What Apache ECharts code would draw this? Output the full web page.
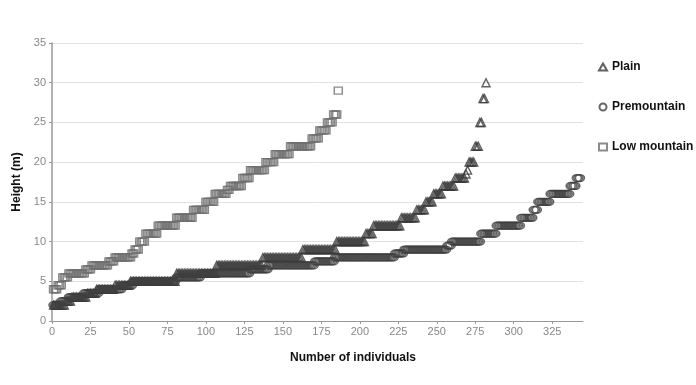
<!DOCTYPE html>
<html><head><meta charset="utf-8">
<script src="https://cdn.jsdelivr.net/npm/echarts@6/dist/echarts.min.js"></script>
<style>html,body{margin:0;padding:0;background:#fff}#c{width:696px;height:385px}</style>
</head><body><div id="c"></div>
<script>
const seriesNames = ['Plain', 'Premountain', 'Low mountain'];
const plainHeights = [2, 2.5, 3, 3.5, 4, 4.5, 5, 6, 7, 8, 9, 10, 11, 12, 13, 14, 15, 16, 17, 18, 18.5, 19, 20, 22, 25, 28, 30];
const plainCounts  = [8, 4, 10, 6, 12, 10, 30, 26, 30, 26, 22, 19, 5, 18, 10, 6, 5, 6, 8, 7, 1, 1, 4, 3, 2, 2, 1];
const premHeights = [2, 2.5, 3, 3.5, 4, 4.5, 5, 5.5, 6, 6.5, 7, 7.5, 8, 8.5, 9, 9.5, 10, 11, 12, 13, 14, 15, 16, 17, 18];
const premCounts  = [5, 5, 10, 10, 15, 7, 28, 16, 32, 12, 30, 13, 39, 6, 28, 3, 19, 10, 16, 8, 3, 8, 13, 4, 3];
const lowHeights = [4, 4.5, 5.5, 6, 6.5, 7, 7.5, 8, 8.5, 9, 10, 11, 12, 13, 14, 15, 16, 16.5, 17, 18, 19, 20, 21, 22, 23, 24, 25, 26, 29];
const lowCounts  = [3, 3, 4, 11, 4, 11, 4, 11, 2, 3, 4, 8, 12, 11, 8, 6, 8, 2, 8, 5, 10, 6, 10, 14, 5, 5, 4, 3, 1];
const xTicks = [0, 25, 50, 75, 100, 125, 150, 175, 200, 225, 250, 275, 300, 325];
const yTicks = [0, 5, 10, 15, 20, 25, 30, 35];

function expand(heights, counts) {
  const out = []; let idx = 0;
  heights.forEach((h, k) => { for (let j = 0; j < counts[k]; j++) { idx++; out.push([idx, h]); } });
  return out;
}

const boldFont = "'Liberation Sans', Arial, sans-serif";
const chart = echarts.init(document.getElementById('c'), null, {renderer: 'canvas'});
function sStyle(color) { return {color: 'rgba(255,255,255,0)', borderColor: color, borderWidth: 1.4}; }
chart.setOption({
  animation: false,
  backgroundColor: '#fff',
  textStyle: {fontFamily: boldFont},
  grid: {left: 52, right: 113, top: 43, bottom: 64},
  title: {text: 'Number of individuals', left: 348, textAlign: 'center', top: 347,
    textStyle: {fontFamily: boldFont, fontWeight: 'bold', fontSize: 12, color: '#111'}},
  legend: {
    orient: 'vertical', left: 593, top: 56, itemGap: 28, itemWidth: 8, itemHeight: 7,
    data: seriesNames,
    textStyle: {fontFamily: boldFont, fontWeight: 'bold', fontSize: 12, color: '#111'}
  },
  xAxis: {
    type: 'value', min: 0, max: 345, interval: 25,
    axisLine: {lineStyle: {color: '#999', width: 1}},
    axisTick: {show: true, length: 3, lineStyle: {color: '#999'}},
    axisLabel: {color: '#888', fontSize: 11, margin: 5, showMaxLabel: false, fontFamily: boldFont,
      formatter: v => xTicks.includes(v) ? String(v) : ''},
    splitLine: {show: false}
  },
  yAxis: {
    type: 'value', min: 0, max: 35, interval: 5,
    name: 'Height (m)', nameLocation: 'middle', nameGap: 26,
    nameTextStyle: {fontFamily: boldFont, fontWeight: 'bold', fontSize: 12, color: '#111'},
    axisLine: {show: true, lineStyle: {color: '#999', width: 1.5}},
    axisTick: {show: true, length: 3, lineStyle: {color: '#999'}},
    axisLabel: {color: '#888', fontSize: 11, margin: 6, fontFamily: boldFont,
      formatter: v => yTicks.includes(v) ? String(v) : ''},
    splitLine: {show: true, lineStyle: {color: '#e2e2e2', width: 1}}
  },
  series: [
    {name: seriesNames[0], type: 'scatter', symbol: 'triangle', symbolSize: 8, silent: true,
     itemStyle: sStyle('#3a3a3a'), data: expand(plainHeights, plainCounts)},
    {name: seriesNames[1], type: 'scatter', symbol: 'circle', symbolSize: [9, 7], silent: true,
     itemStyle: sStyle('#404040'), data: expand(premHeights, premCounts)},
    {name: seriesNames[2], type: 'scatter', symbol: 'rect', symbolSize: [8, 7], silent: true,
     itemStyle: sStyle('#6f6f6f'), data: expand(lowHeights, lowCounts)}
  ]
});
</script></body></html>
